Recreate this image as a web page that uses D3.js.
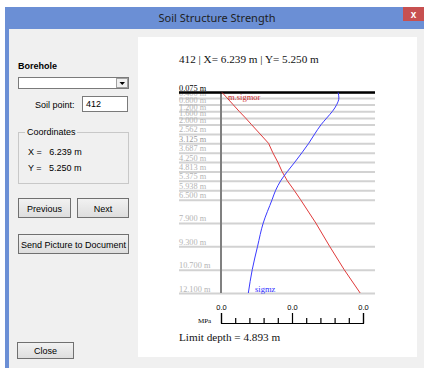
<!DOCTYPE html>
<html><head><meta charset="utf-8">
<script src="https://cdn.jsdelivr.net/npm/d3@7"></script>
<style>
html,body{margin:0;padding:0;background:#fff;}
svg{display:block;}
</style></head>
<body>
<svg id="c" width="424" height="368"></svg>
<script>
// ---- data ----
const depthTicks = [0.075, 0.4, 0.8, 1.2, 1.6, 2.0, 2.562, 3.125, 3.687, 4.25, 4.813, 5.375, 5.938, 6.5, 7.9, 9.3, 10.7, 12.1];
const sigmzValues = [0.0330, 0.0332, 0.0326, 0.0314, 0.0298, 0.0282, 0.0264, 0.0247, 0.0228, 0.0208, 0.0187, 0.0168, 0.0154, 0.0144, 0.0119, 0.0103, 0.0088, 0.0077];
const sigmorValues = [0.0003, 0.0017, 0.0034, 0.0051, 0.0069, 0.0086, 0.0110, 0.0134, 0.0146, 0.0160, 0.0172, 0.0187, 0.0206, 0.0224, 0.0267, 0.0306, 0.0347, 0.0392];
const xTickValues = [0, 0.004, 0.008, 0.012, 0.016, 0.02, 0.024, 0.028, 0.032, 0.036, 0.04];
const titleText = "412 | X= 6.239 m | Y= 5.250 m";
const limitText = "Limit depth = 4.893 m";

const svg = d3.select("#c");
const ui = "'Liberation Sans', Arial, sans-serif";
const serif = "'Liberation Serif', 'Times New Roman', serif";

// ---- window chrome ----
svg.append("rect").attr("x",5).attr("y",7).attr("width",419).attr("height",361).attr("fill","#6b8fd5");
svg.append("rect").attr("x",9).attr("y",29).attr("width",415).attr("height",339).attr("fill","#f0f0f0");
svg.append("text").attr("x",217).attr("y",22).attr("text-anchor","middle")
  .attr("font-family","'Noto Sans', sans-serif").attr("font-size",11).attr("fill","#1e1e1e").text("Soil Structure Strength");
svg.append("rect").attr("x",403).attr("y",7).attr("width",21).attr("height",14).attr("fill","#c75050");
svg.append("text").attr("x",413.5).attr("y",18).attr("text-anchor","middle").attr("font-family",ui)
  .attr("font-size",10).attr("font-weight","bold").attr("fill","#fff").text("x");
// white chart panel
svg.append("rect").attr("x",138).attr("y",37).attr("width",279).attr("height",320).attr("fill","#fff");

// ---- left controls ----
function label(x,y,t,opts={}){
  return svg.append("text").attr("x",x).attr("y",y).attr("font-family",ui).attr("font-size",opts.size||9)
    .attr("font-weight",opts.bold?"bold":"normal").attr("fill",opts.fill||"#000")
    .attr("text-anchor",opts.anchor||"start").text(t);
}
function button(x,y,w,h,t){
  svg.append("rect").attr("x",x+0.5).attr("y",y+0.5).attr("width",w).attr("height",h)
    .attr("fill","url(#btn)").attr("stroke","#707070");
  label(x+w/2+0.5,y+h/2+4,t,{anchor:"middle"});
}
const defs = svg.append("defs");
const lg = defs.append("linearGradient").attr("id","btn").attr("x1",0).attr("y1",0).attr("x2",0).attr("y2",1);
lg.append("stop").attr("offset","0%").attr("stop-color","#f2f2f2");
lg.append("stop").attr("offset","100%").attr("stop-color","#dddddd");

label(18,69,"Borehole",{bold:true});
svg.append("rect").attr("x",18.5).attr("y",77.5).attr("width",110).attr("height",11).attr("fill","#fff").attr("stroke","#7a7a7a");
svg.append("rect").attr("x",116.5).attr("y",78.5).attr("width",11).attr("height",9).attr("fill","#f0f0f0").attr("stroke","#a0a0a0");
svg.append("path").attr("d","M119.5,82 L125,82 L122.25,85 Z").attr("fill","#000");
label(35,108,"Soil point:");
svg.append("rect").attr("x",82.5).attr("y",96.5).attr("width",45).attr("height",15).attr("fill","#fff").attr("stroke","#7a7a7a");
label(86,107,"412");
// group box
svg.append("rect").attr("x",18.5).attr("y",132.5).attr("width",110).attr("height",51).attr("fill","none").attr("stroke","#c8c8c8");
svg.append("rect").attr("x",25).attr("y",128).attr("width",52).attr("height",9).attr("fill","#f0f0f0");
label(27,135,"Coordinates");
label(28,155,"X =   6.239 m").attr("xml:space","preserve");
label(28,171,"Y =   5.250 m").attr("xml:space","preserve");
button(18,198,52,19,"Previous");
button(77,198,51,19,"Next");
button(18,234,110,19,"Send Picture to Document");
button(17,342,56,16,"Close");

// ---- chart ----
const y = d3.scaleLinear().domain([0.075, 12.1]).range([92.5, 293]);
const x = d3.scaleLinear().domain([0, 0.04]).range([221, 363]);

svg.append("text").attr("x",179).attr("y",63).attr("font-family",serif).attr("font-size",11.2)
  .attr("fill","#111").text(titleText);

const yAxis = d3.axisRight(y).tickValues(depthTicks).tickSize(196).tickFormat(d => d.toFixed(3) + " m");
const gy = svg.append("g").attr("transform","translate(179,0)").call(yAxis);
gy.select(".domain").remove();
gy.selectAll(".tick line").attr("stroke","#d2d2d2").attr("stroke-width",2);
gy.selectAll(".tick text").attr("x",0).attr("dy",null).attr("y",-2).attr("text-anchor","start")
  .attr("font-family",serif).attr("font-size",8.3)
  .attr("fill",(d,i)=> i===0 ? "#000" : (d===3.125 ? "#999" : "#b4b4b4"));

// vertical axis
svg.append("line").attr("x1",x(0)).attr("x2",x(0)).attr("y1",y(0.075)).attr("y2",y(12.1))
  .attr("stroke","#808080").attr("stroke-width",2);
// top line drawn over the grid
svg.append("line").attr("x1",179).attr("x2",375).attr("y1",y(0.075)).attr("y2",y(0.075))
  .attr("stroke","#000").attr("stroke-width",2.6);

const redLine = d3.line().x((d,i)=>x(sigmorValues[i])).y(d=>y(d)).curve(d3.curveLinear);
const blueLine = d3.line().x((d,i)=>x(sigmzValues[i])).y(d=>y(d)).curve(d3.curveMonotoneY);
svg.append("path").attr("d",redLine(depthTicks)).attr("fill","none").attr("stroke","#e03a3a").attr("stroke-width",1);
svg.append("path").attr("d",blueLine(depthTicks)).attr("fill","none").attr("stroke","#3a3aff").attr("stroke-width",1);

svg.append("text").attr("x",228).attr("y",100).attr("font-family",serif).attr("font-size",8.5).attr("fill","#d03030").text("m.sigmor");
svg.append("text").attr("x",255).attr("y",292).attr("font-family",serif).attr("font-size",8.5).attr("fill","#3030ff").text("sigmz");

// x axis
const xAxis = d3.axisTop(x).tickValues(xTickValues).tickSizeOuter(0).tickSize(10).tickPadding(3).tickFormat(d3.format(".1f"));
const gx = svg.append("g").attr("transform","translate(0,323)").call(xAxis);
gx.select(".domain").attr("stroke","#000").attr("stroke-width",1.2);
gx.selectAll(".tick").each(function(d,i){
  const major = i % 5 === 0;
  d3.select(this).select("line").attr("y2", major ? -10 : -5).attr("stroke","#000").attr("stroke-width",1.2);
  d3.select(this).select("text").attr("font-family",ui).attr("font-size",7.5).attr("fill","#000")
    .style("display", major ? null : "none");
});
svg.append("text").attr("x",198).attr("y",323).attr("font-family",serif).attr("font-size",7).attr("fill","#000").text("MPa");

svg.append("text").attr("x",179).attr("y",341).attr("font-family",serif).attr("font-size",11.2)
  .attr("fill","#111").text(limitText);
</script>
</body></html>
